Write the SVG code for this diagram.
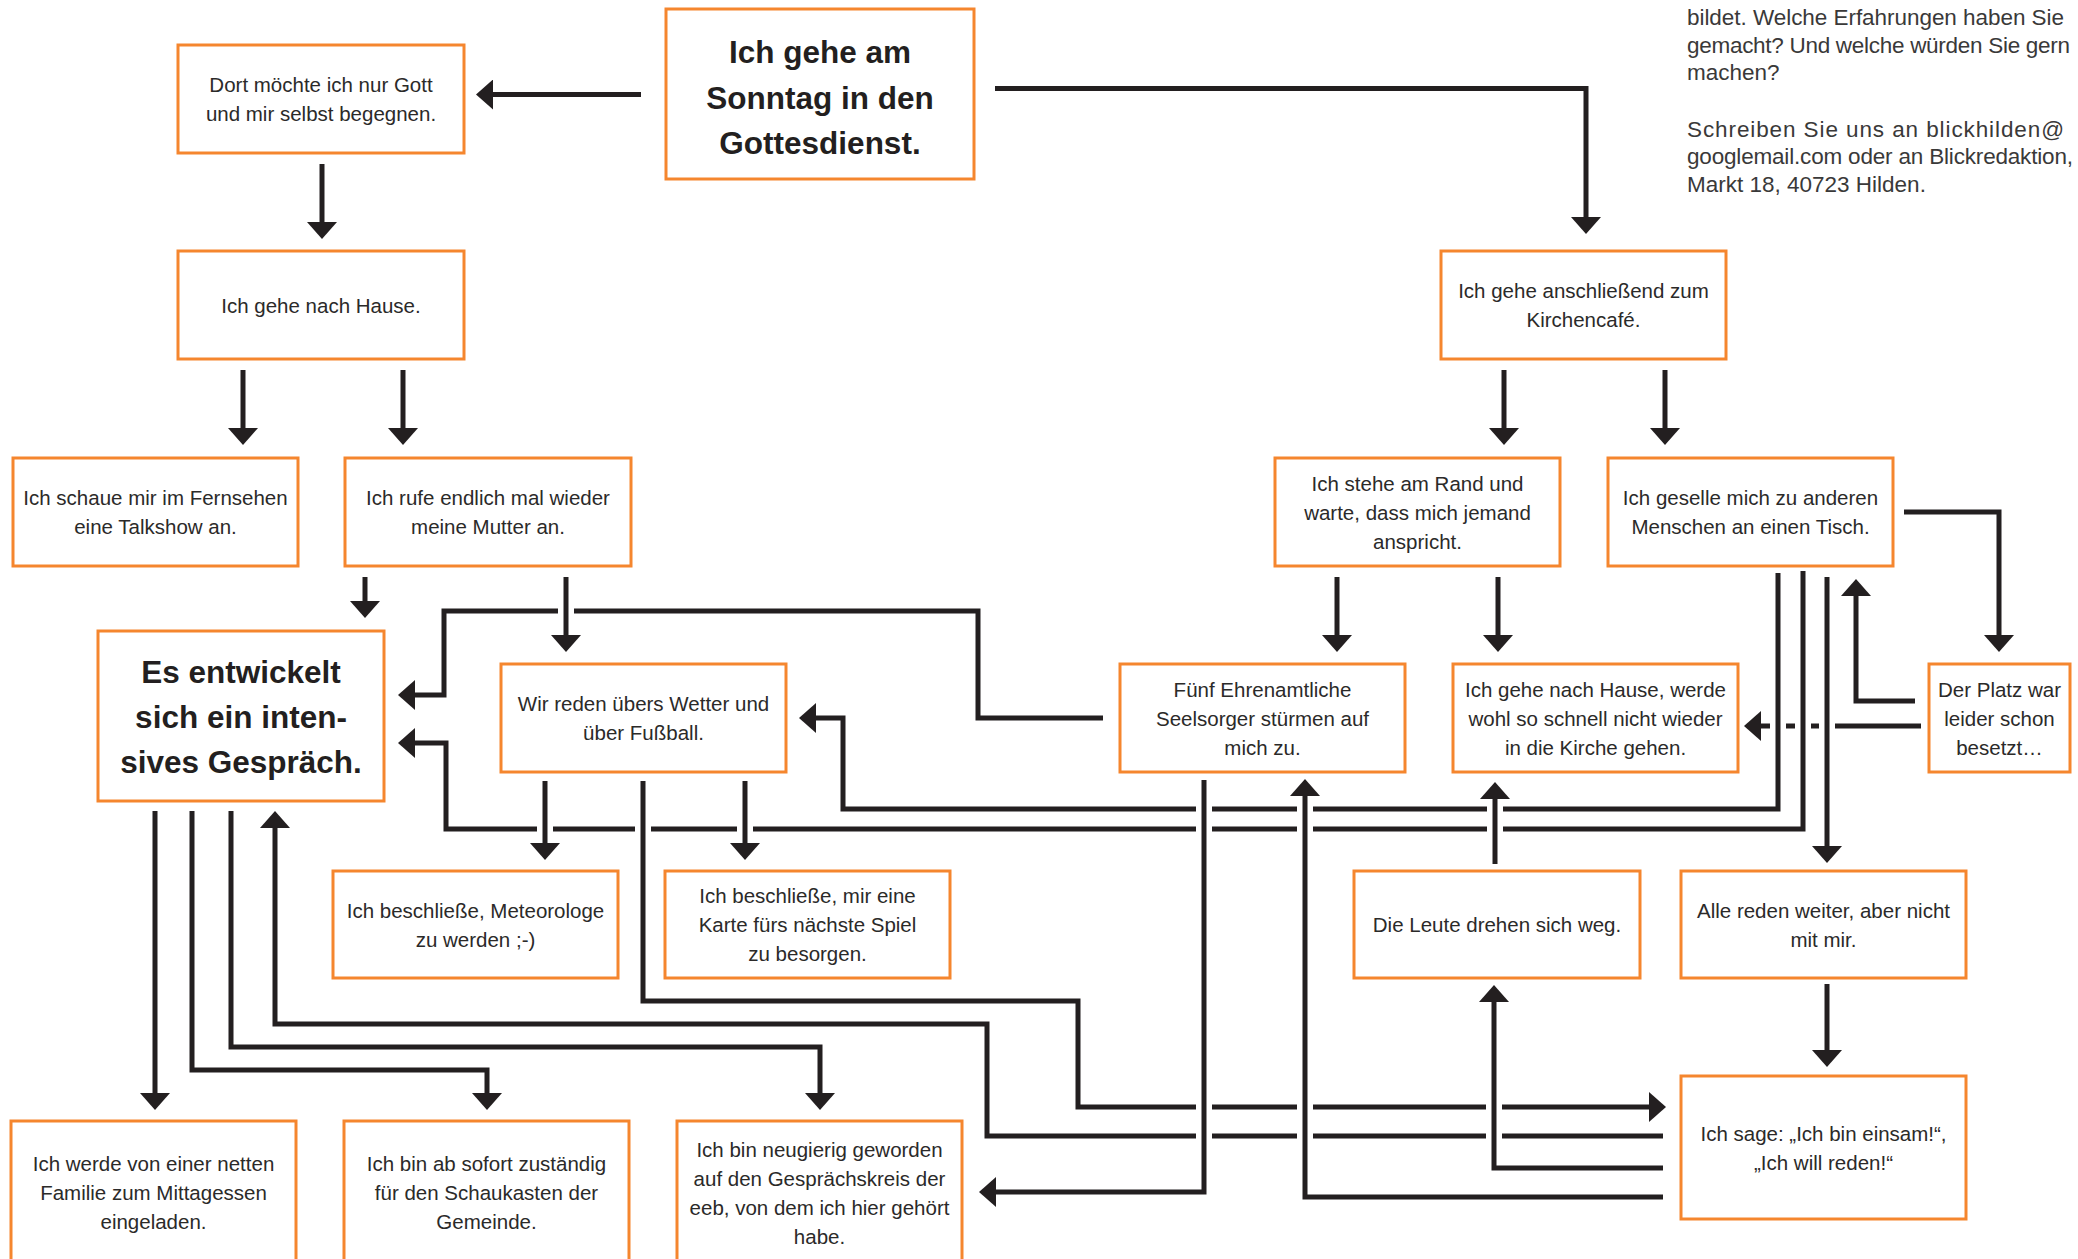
<svg xmlns="http://www.w3.org/2000/svg" width="2078" height="1259" viewBox="0 0 2078 1259">
<style>
.box{fill:#fff;stroke:#f5862e;stroke-width:3}
.t{font-family:"Liberation Sans",Arial,sans-serif;font-size:20.5px;fill:#2b2a29;text-anchor:middle}
.tb{font-family:"Liberation Sans",Arial,sans-serif;font-size:31.5px;font-weight:bold;fill:#231f20;text-anchor:middle}
.body{font-family:"Liberation Sans",Arial,sans-serif;font-size:22.5px;fill:#3a3939}
.ln{fill:none;stroke:#231f20;stroke-width:5;stroke-linejoin:miter;stroke-linecap:butt}
.halo{fill:none;stroke:#fff;stroke-width:16;stroke-linecap:butt}
</style>
<defs>
<marker id="ah" markerUnits="userSpaceOnUse" markerWidth="17" markerHeight="30" viewBox="0 0 17 30" refX="7" refY="15" orient="auto">
<path d="M0,0 L17,15 L0,30 Z" fill="#231f20"/>
</marker>
</defs>
<rect width="2078" height="1259" fill="#fff"/>

<g id="connectors">
<path class="ln" d="M1921,726 H1754" marker-end="url(#ah)"/>
<path class="ln" d="M641,94.5 H486" marker-end="url(#ah)"/>
<path class="ln" d="M995,88.5 H1586 V224" marker-end="url(#ah)"/>
<path class="ln" d="M322,164 V229" marker-end="url(#ah)"/>
<path class="ln" d="M243,370 V435" marker-end="url(#ah)"/>
<path class="ln" d="M403,370 V435" marker-end="url(#ah)"/>
<path class="ln" d="M1504,370 V435" marker-end="url(#ah)"/>
<path class="ln" d="M1665,370 V435" marker-end="url(#ah)"/>
<path class="ln" d="M365,577 V608" marker-end="url(#ah)"/>
<path class="ln" d="M1337,577 V642" marker-end="url(#ah)"/>
<path class="ln" d="M1498,577 V642" marker-end="url(#ah)"/>
<path class="ln" d="M1103,718 H978 V611 H444 V695 H408" marker-end="url(#ah)"/>
<path class="ln" d="M1904,512 H1999 V642" marker-end="url(#ah)"/>
<path class="ln" d="M1915,701 H1856 V589" marker-end="url(#ah)"/>
<path class="ln" d="M1827,984 V1057" marker-end="url(#ah)"/>
<path class="ln" d="M155,811 V1100" marker-end="url(#ah)"/>
<path class="ln" d="M192,811 V1070 H487 V1100" marker-end="url(#ah)"/>
<path class="ln" d="M231,811 V1047 H820 V1100" marker-end="url(#ah)"/>

<path class="halo" d="M1803,571 V829 H446 V743 H408"/>
<path class="ln" d="M1803,571 V829 H446 V743 H408" marker-end="url(#ah)"/>
<path class="halo" d="M1778,573 V809 H843 V718 H809"/>
<path class="ln" d="M1778,573 V809 H843 V718 H809" marker-end="url(#ah)"/>
<path class="halo" d="M1827,577 V853"/>
<path class="ln" d="M1827,577 V853" marker-end="url(#ah)"/>
<path class="halo" d="M566,577 V642"/>
<path class="ln" d="M566,577 V642" marker-end="url(#ah)"/>
<path class="halo" d="M545,781 V850"/>
<path class="ln" d="M545,781 V850" marker-end="url(#ah)"/>
<path class="halo" d="M745,781 V850"/>
<path class="ln" d="M745,781 V850" marker-end="url(#ah)"/>
<path class="halo" d="M643,781 V1001 H1078 V1107 H1656"/>
<path class="ln" d="M643,781 V1001 H1078 V1107 H1656" marker-end="url(#ah)"/>
<path class="ln" d="M1663,1136 H987 V1024 H275 V821" marker-end="url(#ah)"/>
<path class="halo" d="M1663,1168 H1494 V995"/>
<path class="ln" d="M1663,1168 H1494 V995" marker-end="url(#ah)"/>
<path class="halo" d="M1663,1197 H1305 V789"/>
<path class="ln" d="M1663,1197 H1305 V789" marker-end="url(#ah)"/>
<path class="halo" d="M1204,780 V1192 H989"/>
<path class="ln" d="M1204,780 V1192 H989" marker-end="url(#ah)"/>
<path class="halo" d="M1495,864 V792"/>
<path class="ln" d="M1495,864 V792" marker-end="url(#ah)"/>
</g>

<g id="n-start">
<rect class="box" x="666" y="9" width="308" height="170"/>
<text class="tb" x="820" y="63">Ich gehe am</text>
<text class="tb" x="820" y="108.5">Sonntag in den</text>
<text class="tb" x="820" y="154">Gottesdienst.</text>
</g>
<g id="n-dort">
<rect class="box" x="178" y="45" width="286" height="108"/>
<text class="t" x="321" y="92">Dort möchte ich nur Gott</text>
<text class="t" x="321" y="121">und mir selbst begegnen.</text>
</g>
<g id="n-hause">
<rect class="box" x="178" y="251" width="286" height="108"/>
<text class="t" x="321" y="312.5">Ich gehe nach Hause.</text>
</g>
<g id="n-kirchencafe">
<rect class="box" x="1441" y="251" width="285" height="108"/>
<text class="t" x="1583.5" y="298">Ich gehe anschließend zum</text>
<text class="t" x="1583.5" y="327">Kirchencafé.</text>
</g>
<g id="n-talkshow">
<rect class="box" x="13" y="458" width="285" height="108"/>
<text class="t" x="155.5" y="505">Ich schaue mir im Fernsehen</text>
<text class="t" x="155.5" y="534">eine Talkshow an.</text>
</g>
<g id="n-mutter">
<rect class="box" x="345" y="458" width="286" height="108"/>
<text class="t" x="488" y="505">Ich rufe endlich mal wieder</text>
<text class="t" x="488" y="534">meine Mutter an.</text>
</g>
<g id="n-rand">
<rect class="box" x="1275" y="458" width="285" height="108"/>
<text class="t" x="1417.5" y="490.5">Ich stehe am Rand und</text>
<text class="t" x="1417.5" y="519.5">warte, dass mich jemand</text>
<text class="t" x="1417.5" y="548.5">anspricht.</text>
</g>
<g id="n-tisch">
<rect class="box" x="1608" y="458" width="285" height="108"/>
<text class="t" x="1750.5" y="505">Ich geselle mich zu anderen</text>
<text class="t" x="1750.5" y="534">Menschen an einen Tisch.</text>
</g>
<g id="n-gespraech">
<rect class="box" x="98" y="631" width="286" height="170"/>
<text class="tb" x="241" y="683">Es entwickelt</text>
<text class="tb" x="241" y="728">sich ein inten-</text>
<text class="tb" x="241" y="773">sives Gespräch.</text>
</g>
<g id="n-wetter">
<rect class="box" x="501" y="664" width="285" height="108"/>
<text class="t" x="643.5" y="711">Wir reden übers Wetter und</text>
<text class="t" x="643.5" y="740">über Fußball.</text>
</g>
<g id="n-seelsorger">
<rect class="box" x="1120" y="664" width="285" height="108"/>
<text class="t" x="1262.5" y="696.5">Fünf Ehrenamtliche</text>
<text class="t" x="1262.5" y="725.5">Seelsorger stürmen auf</text>
<text class="t" x="1262.5" y="754.5">mich zu.</text>
</g>
<g id="n-nichtwieder">
<rect class="box" x="1453" y="664" width="285" height="108"/>
<text class="t" x="1595.5" y="696.5">Ich gehe nach Hause, werde</text>
<text class="t" x="1595.5" y="725.5">wohl so schnell nicht wieder</text>
<text class="t" x="1595.5" y="754.5">in die Kirche gehen.</text>
</g>
<g id="n-besetzt">
<rect class="box" x="1929" y="664" width="141" height="108"/>
<text class="t" x="1999.5" y="696.5">Der Platz war</text>
<text class="t" x="1999.5" y="725.5">leider schon</text>
<text class="t" x="1999.5" y="754.5">besetzt…</text>
</g>
<g id="n-meteorologe">
<rect class="box" x="333" y="871" width="285" height="107"/>
<text class="t" x="475.5" y="917.5">Ich beschließe, Meteorologe</text>
<text class="t" x="475.5" y="946.5">zu werden ;-)</text>
</g>
<g id="n-karte">
<rect class="box" x="665" y="871" width="285" height="107"/>
<text class="t" x="807.5" y="903">Ich beschließe, mir eine</text>
<text class="t" x="807.5" y="932">Karte fürs nächste Spiel</text>
<text class="t" x="807.5" y="961">zu besorgen.</text>
</g>
<g id="n-weg">
<rect class="box" x="1354" y="871" width="286" height="107"/>
<text class="t" x="1497" y="932">Die Leute drehen sich weg.</text>
</g>
<g id="n-nichtmitmir">
<rect class="box" x="1681" y="871" width="285" height="107"/>
<text class="t" x="1823.5" y="917.5">Alle reden weiter, aber nicht</text>
<text class="t" x="1823.5" y="946.5">mit mir.</text>
</g>
<g id="n-einsam">
<rect class="box" x="1681" y="1076" width="285" height="143"/>
<text class="t" x="1823.5" y="1140.5">Ich sage: „Ich bin einsam!“,</text>
<text class="t" x="1823.5" y="1169.5">„Ich will reden!“</text>
</g>
<g id="n-familie">
<rect class="box" x="11" y="1121" width="285" height="143"/>
<text class="t" x="153.5" y="1171">Ich werde von einer netten</text>
<text class="t" x="153.5" y="1200">Familie zum Mittagessen</text>
<text class="t" x="153.5" y="1229">eingeladen.</text>
</g>
<g id="n-schaukasten">
<rect class="box" x="344" y="1121" width="285" height="143"/>
<text class="t" x="486.5" y="1171">Ich bin ab sofort zuständig</text>
<text class="t" x="486.5" y="1200">für den Schaukasten der</text>
<text class="t" x="486.5" y="1229">Gemeinde.</text>
</g>
<g id="n-eeb">
<rect class="box" x="677" y="1121" width="285" height="143"/>
<text class="t" x="819.5" y="1156.5">Ich bin neugierig geworden</text>
<text class="t" x="819.5" y="1185.5">auf den Gesprächskreis der</text>
<text class="t" x="819.5" y="1214.5">eeb, von dem ich hier gehört</text>
<text class="t" x="819.5" y="1243.5">habe.</text>
</g>

<g id="sidetext">
<text class="body" x="1687" y="25" textLength="377" lengthAdjust="spacing">bildet. Welche Erfahrungen haben Sie</text>
<text class="body" x="1687" y="53" textLength="383" lengthAdjust="spacing">gemacht? Und welche würden Sie gern</text>
<text class="body" x="1687" y="80">machen?</text>
<text class="body" x="1687" y="137" textLength="377" lengthAdjust="spacing">Schreiben Sie uns an blickhilden@</text>
<text class="body" x="1687" y="164" textLength="386" lengthAdjust="spacing">googlemail.com oder an Blickredaktion,</text>
<text class="body" x="1687" y="192">Markt 18, 40723 Hilden.</text>
</g>
</svg>
